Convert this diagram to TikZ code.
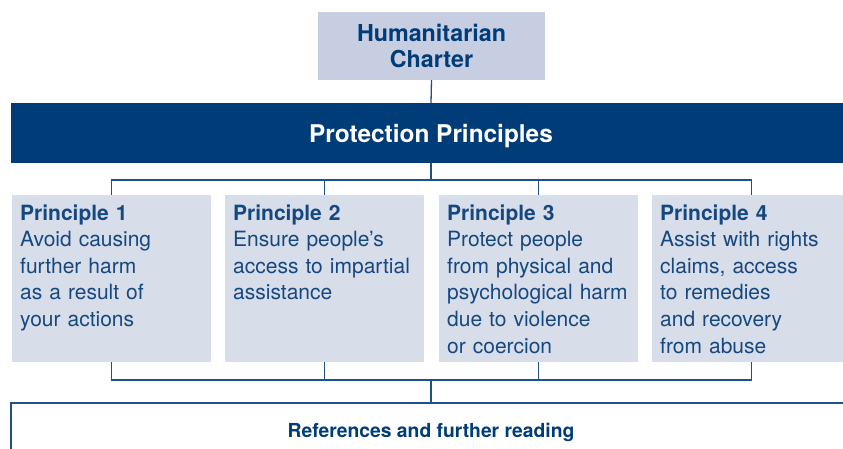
\documentclass[tikz,border=0pt]{standalone}
\usepackage{fontspec}
\setmainfont{TeX Gyre Heros}
\definecolor{navy}{RGB}{0,60,120}
\definecolor{txtblue}{RGB}{22,72,128}
\definecolor{linecol}{RGB}{30,80,140}
\definecolor{pfill}{RGB}{216,221,234}
\definecolor{cfill}{RGB}{200,206,226}
\tikzset{
  charter/.style={fill=cfill, minimum width=227pt, minimum height=68pt, inner sep=0pt, align=center,
    text=navy, font=\bfseries\fontsize{23.3}{26.5}\selectfont},
  banner/.style={fill=navy, minimum width=840pt, minimum height=60pt, inner sep=0pt, text depth=0pt,
    text=white, font=\bfseries\fontsize{24.4}{28}\selectfont},
  pbox/.style={fill=pfill, minimum width=199pt, minimum height=167pt, inner sep=0pt, anchor=north west},
  ptext/.style={anchor=base west, xshift=8pt, yshift=-25pt, inner sep=0pt, text width=196pt, align=left,
    text=txtblue, font=\fontsize{21}{26.6}\selectfont},
  refbox/.style={draw=linecol, line width=1.3pt, minimum width=840pt, minimum height=58pt, inner sep=0pt,
    text=navy, font=\bfseries\fontsize{19.3}{22}\selectfont},
  conn/.style={draw=linecol, line width=1.3pt},
}
\begin{document}
\begin{tikzpicture}[x=1pt,y=-1pt]
\useasboundingbox (0,0) rectangle (843,449);
\clip (0,0) rectangle (843,449);
\node[charter] (hc) at (431.5,46) {Humanitarian\\Charter};
\node[banner] (pp) at (431,133) {Protection Principles};
\node[pbox] (p1) at (12,195) {};
\node[pbox] (p2) at (225,195) {};
\node[pbox] (p3) at (439,195) {};
\node[pbox] (p4) at (652,195) {};
\node[ptext] (t1) at (p1.north west) {\textbf{Principle 1}\\Avoid causing\\further harm\\as a result of\\your actions};
\node[ptext] (t2) at (p2.north west) {\textbf{Principle 2}\\Ensure people’s\\access to impartial\\assistance};
\node[ptext] (t3) at (p3.north west) {\textbf{Principle 3}\\Protect people\\from physical and\\psychological harm\\due to violence\\or coercion};
\node[ptext] (t4) at (p4.north west) {\textbf{Principle 4}\\Assist with rights\\claims, access\\to remedies\\and recovery\\from abuse};
\node[refbox] (ref) at (431,432) {References and further reading};
\coordinate (tbar) at (431,180);
\coordinate (bbar) at (431,380);
\draw[conn] (hc.south) -- (pp.north);
\draw[conn] (pp.south) -- (tbar);
\draw[conn] (p1.north) |- (tbar) -| (p4.north);
\draw[conn] (p2.north) -- (p2.north |- tbar);
\draw[conn] (p3.north) -- (p3.north |- tbar);
\draw[conn] (p1.south) |- (bbar) -| (p4.south);
\draw[conn] (p2.south) -- (p2.south |- bbar);
\draw[conn] (p3.south) -- (p3.south |- bbar);
\draw[conn] (bbar) -- (ref.north);
\end{tikzpicture}
\end{document}
